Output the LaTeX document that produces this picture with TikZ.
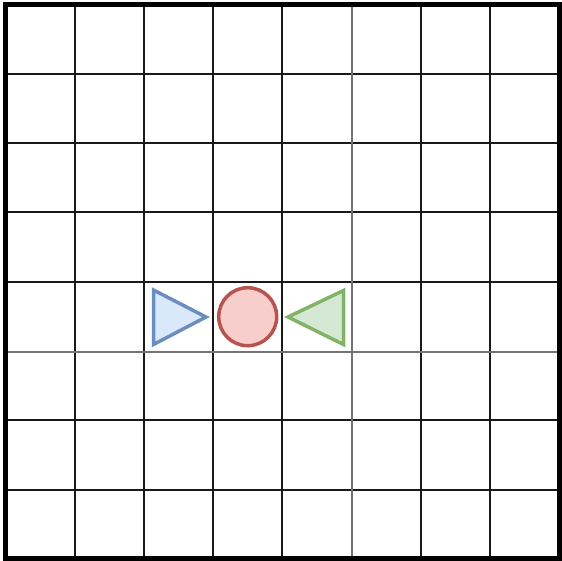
\documentclass[tikz,border=0pt]{standalone}
\definecolor{bluefill}{HTML}{DAE8FC}
\definecolor{bluedraw}{HTML}{6C8EBF}
\definecolor{redfill}{HTML}{F8CECC}
\definecolor{reddraw}{HTML}{B85450}
\definecolor{greenfill}{HTML}{D5E8D4}
\definecolor{greendraw}{HTML}{82B366}
\begin{document}
\begin{tikzpicture}[x=1pt,y=-1pt,
  gridline/.style={line width=2pt,draw=black!90},
  midline/.style={line width=2pt,draw=black!55},
  border/.style={line width=5pt,draw=black},
  shapeline/.style={line width=3.5pt,line join=miter}]
\useasboundingbox (0,0) rectangle (562,560);
\fill[white] (0,0) rectangle (562,560);
\foreach \k in {1,2,3,4,6,7} {
  \draw[gridline] ({5.5+69.2*\k},4.5) -- ({5.5+69.2*\k},558.5);
  \draw[gridline] (5.5,{4.5+69.3*\k}) -- (559,{4.5+69.3*\k});
}
\draw[midline] (351.5,4.5) -- (351.5,558.5);
\draw[midline] (5.5,351.5) -- (559,351.5);
\draw[border] (5,4.5) rectangle (559.5,558);
\draw[shapeline,draw=bluedraw,fill=bluefill] (153.5,290) -- (153.5,344.5) -- (206,317) -- cycle;
\node[circle,draw=reddraw,fill=redfill,line width=3.5pt,minimum size=58pt,inner sep=0pt] (c) at (247.7,316.7) {};
\draw[shapeline,draw=greendraw,fill=greenfill] (343.5,290.5) -- (343.5,344.5) -- (288,317) -- cycle;
\end{tikzpicture}
\end{document}
